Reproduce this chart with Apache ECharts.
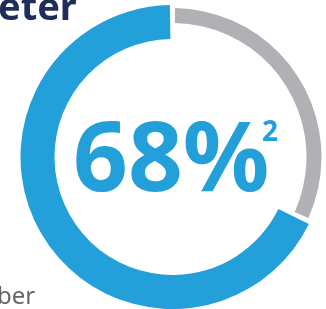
<!DOCTYPE html>
<html>
<head>
<meta charset="utf-8">
<script src="https://cdn.jsdelivr.net/npm/echarts@6/dist/echarts.min.js"></script>
<style>
  html, body { margin: 0; padding: 0; background: #fff; }
  #chart { width: 326px; height: 309px; }
</style>
</head>
<body>
<div id="chart"></div>
<script>
// ring values, drawn clockwise from 12 o'clock: rest first, then the share
const categories = ['rest', 'share']
const values = [32, 68]
const centerLabel = '68%'
const footnote = '2'
const headingTail = 'eter'
const captionTail = 'ber'

const blue = '#239fd9'
const grey = '#b1b1b5'

const chart = echarts.init(document.getElementById('chart'))

const ringItems = (colors) => categories.map((name, i) => ({
  name,
  value: values[i],
  itemStyle: { color: colors[i] }
}))

const option = {
  animation: false,
  series: [
    {
      // thick blue part
      type: 'pie',
      center: [172.5, 157],
      radius: [118, 152],
      startAngle: 90,
      padAngle: 2,
      silent: true,
      label: { show: false },
      labelLine: { show: false },
      data: ringItems(['transparent', blue])
    },
    {
      // thin grey part
      type: 'pie',
      center: [172.5, 157],
      radius: [134, 149],
      startAngle: 90,
      padAngle: 2,
      silent: true,
      label: { show: false },
      labelLine: { show: false },
      data: ringItems([grey, 'transparent'])
    }
  ],
  graphic: [
    {
      type: 'text',
      left: 73,
      top: 116,
      style: {
        text: centerLabel,
        fill: blue,
        font: 'bold 96px "Noto Sans"'
      }
    },
    {
      type: 'text',
      left: 262,
      top: 119,
      style: {
        text: footnote,
        fill: blue,
        font: 'bold 28px "Noto Sans"'
      }
    },
    {
      type: 'text',
      left: -2,
      top: -10,
      style: {
        text: headingTail,
        fill: '#1f2d5b',
        font: 'bold 38px "Noto Sans"'
      }
    },
    {
      type: 'text',
      left: -3,
      top: 285,
      style: {
        text: captionTail,
        fill: '#666666',
        font: '24px "Noto Sans"'
      }
    }
  ]
}

chart.setOption(option)
</script>
</body>
</html>
